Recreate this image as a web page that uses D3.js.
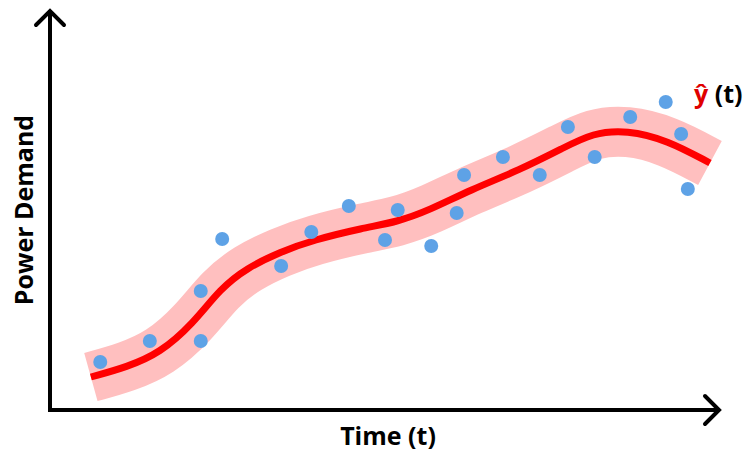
<!DOCTYPE html>
<html>
<head>
<meta charset="utf-8">
<script src="https://cdn.jsdelivr.net/npm/d3@7"></script>
<style>
  body { margin: 0; background: #fff; }
  text { font-family: "Open Sans", sans-serif; font-weight: 700; }
</style>
</head>
<body>
<script>
// observed demand samples (time, demand)
const obsTime = [7.5, 14.9, 22.5, 22.5, 25.7, 34.5, 39, 44.6, 50, 51.9, 56.9, 60.7, 61.8, 67.6, 73.1, 77.3, 81.3, 86.6, 91.9, 94.2, 95.2]
const obsValue = [12, 17.25, 29.75, 17.25, 42.75, 36, 44.5, 51, 42.5, 50, 41, 49.25, 58.75, 63.25, 58.75, 70.75, 63.25, 73.25, 77, 69, 55.25]

// fitted curve y-hat(t)
const fitTime = [6.1, 11.5, 16.4, 21.3, 25.5, 29.4, 34.3, 39.3, 46.7, 51.8, 56.7, 62.7, 70.1, 76.6, 81, 86.1, 92.1, 98.5]
const fitValue = [8.25, 10.75, 14.25, 21.5, 30.5, 35.5, 39.5, 42.5, 45.5, 47, 50, 55, 60, 65.5, 69.25, 70, 67.5, 61.75]

const width = 748
const height = 452

const svg = d3.select("body").append("svg")
    .attr("width", width)
    .attr("height", height)

const x = d3.scaleLinear().domain([0, 100]).range([50, 720])
const y = d3.scaleLinear().domain([0, 100]).range([410, 10])

const fit = fitTime.map((t, i) => [t, fitValue[i]])
const line = d3.line()
    .x(d => x(d[0]))
    .y(d => y(d[1]))
    .curve(d3.curveBasis)

// confidence band as a wide stroke
svg.append("path")
    .attr("d", line(fit))
    .attr("fill", "none")
    .attr("stroke", "#ffbfbf")
    .attr("stroke-width", 50)
    .attr("stroke-linecap", "butt")

svg.append("path")
    .attr("d", line(fit))
    .attr("fill", "none")
    .attr("stroke", "#ff0000")
    .attr("stroke-width", 7)
    .attr("stroke-linecap", "butt")

svg.selectAll(".pt")
    .data(obsTime.map((t, i) => [t, obsValue[i]]))
    .enter().append("circle")
    .attr("class", "pt")
    .attr("cx", d => x(d[0]))
    .attr("cy", d => y(d[1]))
    .attr("r", 7)
    .attr("fill", "#5ea2e6")

// axes with open arrowheads
const x0 = x(0), y0 = y(0), xEnd = x(100), yEnd = y(100)
const axis = svg.append("g")
    .attr("fill", "none")
    .attr("stroke", "#000")
    .attr("stroke-width", 4)

axis.append("path").attr("d", `M${x0},${y0 + 2}V${yEnd}`)
axis.append("path").attr("d", `M${x0 - 2},${y0}H${xEnd}`)
axis.append("path")
    .attr("stroke-linejoin", "miter")
    .attr("stroke-linecap", "round")
    .attr("d", `M${x0 - 14},${yEnd + 15}L${x0},${yEnd + 1}L${x0 + 14},${yEnd + 15}`)
axis.append("path")
    .attr("stroke-linejoin", "miter")
    .attr("stroke-linecap", "round")
    .attr("d", `M${xEnd - 15},${y0 - 14}L${xEnd - 1},${y0}L${xEnd - 15},${y0 + 14}`)

svg.append("text")
    .attr("x", 388)
    .attr("y", 445)
    .attr("text-anchor", "middle")
    .attr("font-size", 25)
    .text("Time (t)")

svg.append("text")
    .attr("transform", "translate(33,210) rotate(-90)")
    .attr("text-anchor", "middle")
    .attr("font-size", 25)
    .text("Power Demand")

const lbl = svg.append("text")
    .attr("x", 694)
    .attr("y", 103)
    .attr("font-size", 25)
lbl.append("tspan").attr("fill", "#e00000").text("ŷ")
lbl.append("tspan").attr("fill", "#000").text(" (t)")
</script>
</body>
</html>
